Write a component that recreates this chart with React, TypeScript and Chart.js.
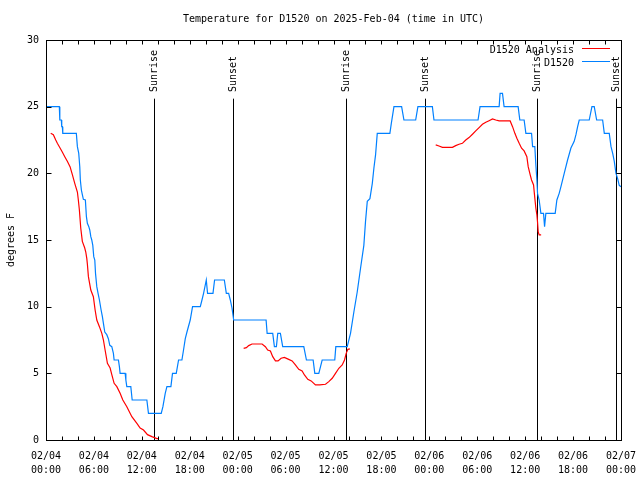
import React, { useEffect, useRef } from "react";
import { Chart, registerables } from "chart.js";

Chart.register(...registerables);

const TITLE = "Temperature for D1520 on 2025-Feb-04 (time in UTC)";
const Y_LABEL = "degrees F";
const SERIES_NAMES = ["D1520 Analysis", "D1520"];

const X_TICK_DATES = ["02/04", "02/04", "02/04", "02/04", "02/05", "02/05", "02/05", "02/05", "02/06", "02/06", "02/06", "02/06", "02/07"];
const X_TICK_TIMES = ["00:00", "06:00", "12:00", "18:00", "00:00", "06:00", "12:00", "18:00", "00:00", "06:00", "12:00", "18:00", "00:00"];

const SUN_EVENTS = ["Sunrise", "Sunset", "Sunrise", "Sunset", "Sunrise", "Sunset"];
const SUN_HOURS = [13.52, 23.42, 37.55, 47.45, 61.47, 71.37];

// Observed D1520 (hours since 02/04 00:00 UTC, degrees F)
const obsHours = [
  0, 1.67, 1.73, 1.92, 1.97, 2.05, 2.1, 3.8, 3.93, 4.1,
  4.23, 4.3, 4.43, 4.55, 4.68, 4.93, 5.06, 5.18, 5.36, 5.48,
  5.61, 5.73, 5.86, 5.98, 6.11, 6.2, 6.36, 6.52, 6.69, 6.9,
  7.06, 7.19, 7.36, 7.61, 7.81, 7.99, 8.24, 8.44, 8.53, 9.07,
  9.19, 9.28, 9.91, 10.0, 10.12, 10.62, 10.79, 12.63, 12.83, 14.43,
  14.64, 14.93, 15.14, 15.64, 15.84, 16.31, 16.6, 17.02, 17.22, 17.44,
  17.65, 18.06, 18.35, 19.32, 19.53, 19.73, 20.07, 20.23, 20.91, 21.11,
  22.33, 22.58, 22.87, 23.08, 23.29, 23.5, 27.56, 27.69, 28.39, 28.6,
  28.85, 29.02, 29.35, 29.64, 32.28, 32.61, 33.45, 33.66, 34.16, 34.58,
  36.16, 36.29, 37.72, 38.13, 38.55, 38.97, 39.39, 39.8, 40.01, 40.23,
  40.56, 40.86, 41.06, 41.27, 41.48, 43.06, 43.24, 43.57, 44.53, 44.82,
  46.29, 46.57, 48.38, 48.58, 54.1, 54.35, 56.74, 56.86, 57.16, 57.36,
  59.12, 59.33, 59.87, 60.09, 60.8, 60.93, 61.21, 61.34, 61.47, 61.55,
  61.75, 61.97, 62.3, 62.43, 62.59, 63.76, 63.97, 64.26, 64.48, 64.89,
  65.31, 65.73, 66.14, 66.36, 66.57, 66.77, 68.02, 68.36, 68.65, 68.95,
  69.7, 69.91, 70.53, 70.75, 70.96, 71.16, 71.37, 71.58, 71.78, 72,
];
const obsTemps = [
  25, 25, 24, 24, 23.5, 23.5, 23, 23, 22, 21.5,
  20.5, 19.5, 18.75, 18.4, 18.05, 18, 16.75, 16.25, 16, 15.75,
  15.25, 15, 14.6, 13.75, 13.5, 12.5, 11.5, 11, 10.5, 9.75,
  9.25, 8.75, 8.1, 7.9, 7.6, 7.1, 7, 6.5, 6, 6,
  5.5, 5, 5, 4.5, 4, 4, 3, 3, 2, 2,
  2.5, 3.5, 4, 4, 5, 5, 6, 6, 6.75, 7.6,
  8.1, 9, 10, 10, 10.5, 11, 12, 11, 11, 12,
  12, 11, 11, 10.5, 9.9, 9, 9, 8, 8, 7,
  7, 8, 8, 7, 7, 6, 6, 5, 5, 6,
  6, 7, 7, 8, 9.6, 11.1, 12.9, 14.6, 16.4, 17.9,
  18.1, 19.25, 20.4, 21.4, 23, 23, 23.75, 25, 25, 24,
  24, 25, 25, 24, 24, 25, 25, 26, 26, 25,
  25, 24, 24, 23, 23, 22, 22, 20.6, 19.5, 18.5,
  18, 17, 17, 16, 17, 17, 18, 18.5, 19, 20,
  21, 21.9, 22.4, 22.9, 23.5, 24, 24, 25, 25, 24,
  24, 23, 23, 22, 21.5, 20.9, 20, 19.6, 19.1, 19,
];

// Analysis (three runs, separated by gaps)
const anaHours1 = [
  0.59, 0.92, 1.22, 1.42, 1.76, 2.04, 2.35, 2.67, 3.01, 3.3,
  3.6, 3.93, 4.05, 4.18, 4.35, 4.55, 4.85, 4.98, 5.11, 5.18,
  5.31, 5.61, 5.93, 6.15, 6.36, 6.69, 6.99, 7.19, 7.4, 7.69,
  8.03, 8.24, 8.53, 8.87, 9.28, 9.62, 10.12, 10.75, 11.38, 11.79,
  12.21, 12.71, 13.26, 13.89, 14.09,
];
const anaTemps1 = [
  23, 22.9, 22.5, 22.25, 21.9, 21.6, 21.25, 20.9, 20.5, 19.9,
  19.25, 18.6, 18, 17.25, 15.9, 14.9, 14.4, 14.1, 13.6, 13.2,
  12.25, 11.25, 10.75, 9.75, 9, 8.5, 8, 7.5, 6.75, 5.75,
  5.4, 4.9, 4.25, 4, 3.5, 3, 2.5, 1.75, 1.25, 0.9,
  0.75, 0.4, 0.25, 0.1, 0.1,
];
const anaHours2 = [
  24.75, 25.09, 25.38, 25.8, 27.06, 27.47, 27.76, 28.1, 28.39, 28.73,
  29.06, 29.44, 29.85, 30.39, 30.82, 31.23, 31.65, 32.07, 32.36, 32.78,
  33.2, 33.74, 34.28, 35.0, 35.41, 35.84, 36.25, 36.67, 37.09, 37.38,
  37.59, 37.8, 38.05,
];
const anaTemps2 = [
  6.87, 6.93, 7.08, 7.2, 7.2, 7.0, 6.75, 6.68, 6.25, 5.93,
  5.93, 6.13, 6.2, 6.05, 5.93, 5.63, 5.3, 5.18, 4.88, 4.55,
  4.43, 4.13, 4.13, 4.18, 4.38, 4.63, 5.0, 5.38, 5.63, 6.0,
  6.5, 6.8, 6.83,
];
const anaHours3 = [
  48.8, 49.21, 49.64, 50.89, 51.3, 51.72, 52.14, 52.56, 52.97, 53.4,
  53.81, 54.23, 54.65, 55.07, 55.48, 55.91, 56.32, 56.74, 58.12, 58.42,
  58.71, 58.96, 59.25, 59.55, 59.87, 60.21, 60.38, 60.63, 60.8, 61.05,
  61.21, 61.34, 61.47, 61.55, 61.63, 61.75, 62.0,
];
const anaTemps3 = [
  22.13, 22.05, 21.95, 21.95, 22.08, 22.18, 22.25, 22.5, 22.68, 22.93,
  23.18, 23.43, 23.68, 23.83, 23.95, 24.08, 24.0, 23.93, 23.93, 23.5,
  23, 22.63, 22.25, 21.88, 21.68, 21.25, 20.5, 19.88, 19.5, 19.13,
  18.13, 17.38, 16.88, 16.33, 15.63, 15.38, 15.38,
];

const RED = "#ff0000";
const BLUE = "#0080ff";
const FONT_FAMILY = '"DejaVu Sans Mono", "Liberation Mono", monospace';
const FONT = `10px ${FONT_FAMILY}`;

const toPoints = (xs: number[], ys: number[]) => xs.map((x, i) => ({ x, y: ys[i] }));

const gnuplotFrame = {
  id: "gnuplotFrame",
  beforeDatasetsDraw(chart: any) {
    const { ctx, scales } = chart;
    const x = scales.x;
    const y = scales.y;
    ctx.save();
    ctx.strokeStyle = "#000";
    ctx.fillStyle = "#000";
    ctx.lineWidth = 1;
    ctx.font = FONT;
    SUN_HOURS.forEach((t, i) => {
      const px = Math.round(x.getPixelForValue(t)) + 0.5;
      ctx.beginPath();
      ctx.moveTo(px, y.getPixelForValue(0));
      ctx.lineTo(px, y.getPixelForValue(25.6));
      ctx.stroke();
      ctx.save();
      ctx.translate(px, y.getPixelForValue(26.1));
      ctx.rotate(-Math.PI / 2);
      ctx.textAlign = "left";
      ctx.textBaseline = "middle";
      ctx.fillText(SUN_EVENTS[i], 0, 0);
      ctx.restore();
    });
    ctx.restore();
  },
  afterDraw(chart: any) {
    const { ctx, chartArea: a, scales } = chart;
    const x = scales.x;
    const y = scales.y;
    ctx.save();
    ctx.strokeStyle = "#000";
    ctx.fillStyle = "#000";
    ctx.lineWidth = 1;
    const L = Math.round(a.left) + 0.5;
    const R = Math.round(a.right) + 0.5;
    const T = Math.round(a.top) + 0.5;
    const B = Math.round(a.bottom) + 0.5;
    ctx.strokeRect(L, T, R - L, B - T);
    ctx.beginPath();
    for (let h = 0; h <= 72; h += 2) {
      const px = Math.round(x.getPixelForValue(h)) + 0.5;
      ctx.moveTo(px, B);
      ctx.lineTo(px, B - 4);
      ctx.moveTo(px, T);
      ctx.lineTo(px, T + 4);
    }
    for (let v = 0; v <= 30; v += 5) {
      const py = Math.round(y.getPixelForValue(v)) + 0.5;
      ctx.moveTo(L, py);
      ctx.lineTo(L + 5, py);
      ctx.moveTo(R, py);
      ctx.lineTo(R - 5, py);
    }
    ctx.stroke();

    ctx.font = FONT;
    ctx.textAlign = "center";
    ctx.textBaseline = "middle";
    ctx.fillText(TITLE, (a.left + a.right) / 2, 19);

    ctx.save();
    ctx.translate(11, (a.top + a.bottom) / 2);
    ctx.rotate(-Math.PI / 2);
    ctx.fillText(Y_LABEL, 0, 0);
    ctx.restore();

    // key
    const colors = [RED, BLUE];
    const rows = [50, 63];
    ctx.textAlign = "right";
    SERIES_NAMES.forEach((name, i) => {
      ctx.fillStyle = "#000";
      ctx.fillText(name, 574, rows[i]);
      ctx.strokeStyle = colors[i];
      ctx.beginPath();
      ctx.moveTo(582, rows[i] - 1.5);
      ctx.lineTo(610, rows[i] - 1.5);
      ctx.stroke();
    });
    ctx.restore();
  },
};

export default function App() {
  const ref = useRef<HTMLCanvasElement | null>(null);

  useEffect(() => {
    document.body.style.margin = "0";
    const canvas = ref.current;
    if (!canvas) return;
    const anaData = [
      ...toPoints(anaHours1, anaTemps1),
      { x: 19, y: null },
      ...toPoints(anaHours2, anaTemps2),
      { x: 43, y: null },
      ...toPoints(anaHours3, anaTemps3),
    ];
    const chart = new Chart(canvas, {
      type: "line",
      data: {
        datasets: [
          {
            label: SERIES_NAMES[1],
            data: toPoints(obsHours, obsTemps),
            borderColor: BLUE,
            borderWidth: 1.2,
            pointRadius: 0,
            tension: 0,
            fill: false,
          },
          {
            label: SERIES_NAMES[0],
            data: anaData as any,
            borderColor: RED,
            borderWidth: 1.2,
            pointRadius: 0,
            tension: 0,
            fill: false,
            spanGaps: false,
          },
        ],
      },
      options: {
        animation: false,
        responsive: false,
        maintainAspectRatio: false,
        events: [],
        layout: { padding: { left: 0, right: 19, top: 40, bottom: 0 } },
        plugins: {
          legend: { display: false },
          tooltip: { enabled: false },
          title: { display: false },
        },
        scales: {
          x: {
            type: "linear",
            min: 0,
            max: 72,
            afterFit: (s: any) => {
              s.height = 40;
              s.paddingLeft = 0;
              s.paddingRight = 0;
            },
            afterBuildTicks: (s: any) => {
              s.ticks = X_TICK_DATES.map((_, i) => ({ value: i * 6 }));
            },
            ticks: {
              autoSkip: false,
              maxRotation: 0,
              minRotation: 0,
              padding: 9,
              color: "#000",
              font: { family: FONT_FAMILY, size: 10, lineHeight: 1.4 },
              callback: (_v: any, i: number) => [X_TICK_DATES[i], X_TICK_TIMES[i]],
            },
            grid: { display: false, drawTicks: false },
            border: { display: false },
          },
          y: {
            min: 0,
            max: 30,
            afterFit: (s: any) => {
              s.width = 46;
              s.paddingTop = 0;
              s.paddingBottom = 0;
            },
            ticks: {
              stepSize: 5,
              padding: 7,
              color: "#000",
              font: { family: FONT_FAMILY, size: 10 },
            },
            grid: { display: false, drawTicks: false },
            border: { display: false },
          },
        },
      },
      plugins: [gnuplotFrame],
    });
    return () => chart.destroy();
  }, []);

  return (
    <canvas
      ref={ref}
      width={640}
      height={480}
      style={{ display: "block", width: "640px", height: "480px" }}
    />
  );
}
